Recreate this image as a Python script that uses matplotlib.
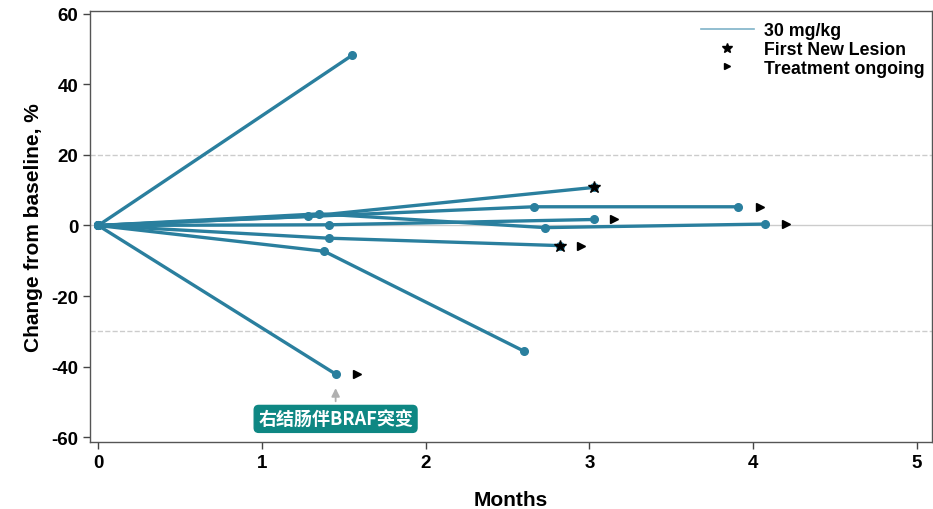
import matplotlib

matplotlib.use("Agg")
import matplotlib.pyplot as plt
from matplotlib.lines import Line2D

plt.rcParams["font.family"] = ["Liberation Sans", "DejaVu Sans"]
plt.rcParams["font.weight"] = "bold"
plt.rcParams["axes.unicode_minus"] = False

LINE_COLOR = "#2a7f9e"
BOX_COLOR = "#0e8783"

# one list of (months, % change) per patient
patients_x = [
    [0, 1.55],
    [0, 1.45],
    [0, 1.38, 2.60],
    [0, 1.41, 2.82],
    [0, 1.28, 3.03],
    [0, 1.41, 3.03],
    [0, 2.66, 3.91],
    [0, 1.35, 2.73, 4.07],
]
patients_y = [
    [0, 48.2],
    [0, -42.1],
    [0, -7.3, -35.6],
    [0, -3.6, -5.7],
    [0, 2.6, 10.8],
    [0, 0.2, 1.7],
    [0, 5.3, 5.3],
    [0, 3.3, -0.6, 0.4],
]

new_lesion_x = [3.03, 2.82]
new_lesion_y = [10.8, -5.7]

ongoing_x = [1.58, 2.95, 3.15, 4.04, 4.20]
ongoing_y = [-42.1, -5.7, 1.7, 5.3, 0.4]

fig = plt.figure(figsize=(9.33, 5.10), dpi=100)
ax = fig.add_axes([0.0965, 0.131, 0.902, 0.846])

ax.axhline(0, color="#cccccc", lw=1.0, zorder=0)
ax.axhline(20, color="#cccccc", lw=1.0, ls="--", zorder=0)
ax.axhline(-30, color="#cccccc", lw=1.0, ls="--", zorder=0)

for xs, ys in zip(patients_x, patients_y):
    ax.plot(xs, ys, color=LINE_COLOR, lw=2.4, marker="o", ms=5.5,
            solid_capstyle="round", zorder=2)

ax.plot(new_lesion_x, new_lesion_y, ls="none", marker="*", ms=9,
        color="black", zorder=3)
ax.plot(ongoing_x, ongoing_y, ls="none", marker=">", ms=6,
        color="black", zorder=3)

ax.annotate("", xy=(1.45, -45.3), xytext=(1.45, -50.6),
            arrowprops=dict(arrowstyle="-|>", color="#b0b0b0", lw=1.3,
                            mutation_scale=12))
ax.text(1.45, -54.8, "右结肠伴BRAF突变", ha="center", va="center",
        color="white", fontsize=13, fontweight="bold",
        family=["Noto Sans CJK SC", "DejaVu Sans"],
        bbox=dict(boxstyle="round,pad=0.22,rounding_size=0.25",
                  fc=BOX_COLOR, ec=BOX_COLOR))

ax.set_xlim(-0.05, 5.09)
ax.set_ylim(-61.4, 60.85)
ax.set_xticks([0, 1, 2, 3, 4, 5])
ax.set_yticks([-60, -40, -20, 0, 20, 40, 60])
ax.tick_params(axis="both", labelsize=13.5, length=5, width=1.0,
               color="#444444", direction="out")
for lab in ax.get_xticklabels() + ax.get_yticklabels():
    lab.set_fontweight("bold")
for sp in ax.spines.values():
    sp.set_color("#555555")
    sp.set_linewidth(1.0)

ax.set_xlabel("Months", fontsize=15, fontweight="bold", labelpad=14)
ax.set_ylabel("Change from baseline, %", fontsize=15, fontweight="bold",
              labelpad=6)

handles = [
    Line2D([], [], color="#7fb3c8", lw=1.2),
    Line2D([], [], ls="none", marker="*", ms=7, color="black"),
    Line2D([], [], ls="none", marker=">", ms=5, color="black"),
]
ax.legend(handles, ["30 mg/kg", "First New Lesion", "Treatment ongoing"],
          loc="upper right", frameon=False,
          handlelength=3.0, handletextpad=0.55, labelspacing=0.1,
          borderaxespad=0.0, bbox_to_anchor=(1.0, 0.99),
          prop={"weight": "bold", "size": 12.8})

fig.savefig("out.png", dpi=100)
